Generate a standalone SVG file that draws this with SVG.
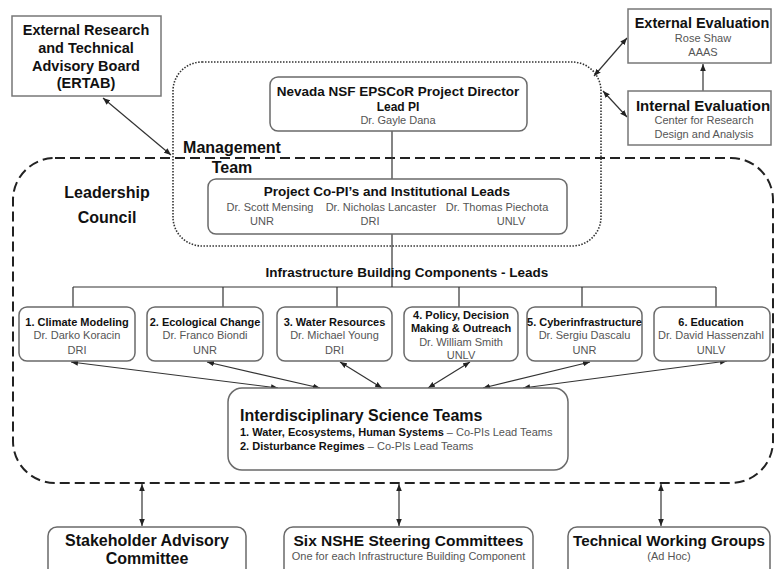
<svg xmlns="http://www.w3.org/2000/svg" width="774" height="569" viewBox="0 0 774 569">
<defs>
<marker id="ah" viewBox="0 0 10 10" refX="10" refY="5" markerWidth="7" markerHeight="7" markerUnits="userSpaceOnUse" orient="auto-start-reverse"><path d="M0,1 L10,5 L0,9 z" fill="#222"/></marker>
<style>
text{font-family:"Liberation Sans",Arial,sans-serif;text-anchor:middle}
.b{font-weight:bold;fill:#111}
.r{fill:#555;font-size:11px}
.box{fill:#fff;stroke:#6a6a6a;stroke-width:1.5}
.sq{fill:#fff;stroke:#777;stroke-width:1.5}
.ln{stroke:#333;stroke-width:1.2;fill:none}
.ar{stroke:#333;stroke-width:1.2;fill:none;marker-start:url(#ah);marker-end:url(#ah)}
.lbl{font-weight:bold;font-size:16px;fill:#111}
</style>
</defs>
<rect width="774" height="569" fill="#fff"/>

<g id="boundaries">
<rect x="13" y="158" width="760" height="325" rx="42" ry="42" fill="none" stroke="#222" stroke-width="2" stroke-dasharray="10 5"/>
<rect x="173" y="62" width="428" height="184" rx="29" ry="29" fill="none" stroke="#333" stroke-width="1.6" stroke-dasharray="1.5 1.5"/>
</g>

<g id="connectors">
<line class="ln" x1="392" y1="131" x2="392" y2="179"/>
<line class="ln" x1="392" y1="234" x2="392" y2="287"/>
<line class="ln" x1="73" y1="287" x2="716" y2="287"/>
<line class="ln" x1="73" y1="287" x2="73" y2="307"/>
<line class="ln" x1="223" y1="287" x2="223" y2="307"/>
<line class="ln" x1="337" y1="287" x2="337" y2="307"/>
<line class="ln" x1="459" y1="287" x2="459" y2="307"/>
<line class="ln" x1="582" y1="287" x2="582" y2="307"/>
<line class="ln" x1="716" y1="287" x2="716" y2="307"/>
<line class="ar" x1="103" y1="98" x2="171" y2="155"/>
<line class="ar" x1="594" y1="76" x2="627" y2="38"/>
<line class="ar" x1="603" y1="91" x2="627" y2="117"/>
<line class="ln" x1="703" y1="91" x2="703" y2="64" marker-end="url(#ah)"/>
<line class="ar" x1="71" y1="362" x2="278" y2="388"/>
<line class="ar" x1="207" y1="362" x2="320" y2="388"/>
<line class="ar" x1="340" y1="362" x2="382" y2="388"/>
<line class="ar" x1="470" y1="362" x2="428" y2="388"/>
<line class="ar" x1="590" y1="362" x2="483" y2="388"/>
<line class="ar" x1="727" y1="361" x2="523" y2="388"/>
<line class="ar" x1="142" y1="484" x2="142" y2="526"/>
<line class="ar" x1="399" y1="484" x2="399" y2="526"/>
<line class="ar" x1="661" y1="484" x2="661" y2="526"/>
</g>

<g id="labels">
<text class="lbl" x="232" y="153">Management</text>
<text class="lbl" x="232" y="173">Team</text>
<text class="lbl" x="107" y="198">Leadership</text>
<text class="lbl" x="107" y="223">Council</text>
<text class="b" x="407" y="277" font-size="13.5">Infrastructure Building Components - Leads</text>
</g>

<g id="ertab">
<rect class="sq" x="12" y="16" width="149" height="80"/>
<text class="b" x="86" y="35" font-size="14.5">External Research</text>
<text class="b" x="86" y="53" font-size="14.5">and Technical</text>
<text class="b" x="86" y="71" font-size="14.5">Advisory Board</text>
<text class="b" x="86" y="88" font-size="14.5">(ERTAB)</text>
</g>

<g id="external-evaluation">
<rect class="sq" x="628" y="9" width="143" height="54"/>
<text class="b" x="702" y="28" font-size="14.5">External Evaluation</text>
<text class="r" x="703" y="42">Rose Shaw</text>
<text class="r" x="703" y="56">AAAS</text>
</g>

<g id="internal-evaluation">
<rect class="sq" x="628" y="91" width="143" height="54"/>
<text class="b" x="703" y="111" font-size="15">Internal Evaluation</text>
<text class="r" x="704" y="124">Center for Research</text>
<text class="r" x="704" y="138">Design and Analysis</text>
</g>

<g id="director">
<rect class="box" x="270" y="77" width="257" height="54" rx="8"/>
<text class="b" x="398" y="96" font-size="13.5">Nevada NSF EPSCoR Project Director</text>
<text class="b" x="398" y="111" font-size="12">Lead PI</text>
<text class="r" x="398" y="124">Dr. Gayle Dana</text>
</g>

<g id="co-pis">
<rect class="box" x="208" y="179" width="359" height="55" rx="8"/>
<text class="b" x="387" y="196" font-size="13.5">Project Co-PI’s and Institutional Leads</text>
<text class="r" x="270" y="211">Dr. Scott Mensing</text>
<text class="r" x="381" y="211">Dr. Nicholas Lancaster</text>
<text class="r" x="497" y="211">Dr. Thomas Piechota</text>
<text class="r" x="262" y="225">UNR</text>
<text class="r" x="370" y="225">DRI</text>
<text class="r" x="511" y="225">UNLV</text>
</g>

<g id="comp1">
<rect class="box" x="19" y="307" width="116" height="54" rx="8"/>
<text class="b" x="77" y="326" font-size="11">1. Climate Modeling</text>
<text class="r" x="77" y="339">Dr. Darko Koracin</text>
<text class="r" x="77" y="354">DRI</text>
</g>
<g id="comp2">
<rect class="box" x="147" y="307" width="116" height="54" rx="8"/>
<text class="b" x="205" y="326" font-size="11">2. Ecological Change</text>
<text class="r" x="205" y="339">Dr. Franco Biondi</text>
<text class="r" x="205" y="354">UNR</text>
</g>
<g id="comp3">
<rect class="box" x="277" y="307" width="115" height="54" rx="8"/>
<text class="b" x="334.5" y="326" font-size="11">3. Water Resources</text>
<text class="r" x="334.5" y="339">Dr. Michael Young</text>
<text class="r" x="334.5" y="354">DRI</text>
</g>
<g id="comp4">
<rect class="box" x="404" y="307" width="114" height="54" rx="8"/>
<text class="b" x="461" y="319" font-size="11">4. Policy, Decision</text>
<text class="b" x="461" y="332" font-size="11">Making &amp; Outreach</text>
<text class="r" x="461" y="346">Dr. William Smith</text>
<text class="r" x="461" y="359">UNLV</text>
</g>
<g id="comp5">
<rect class="box" x="527" y="307" width="115" height="54" rx="8"/>
<text class="b" x="584.5" y="326" font-size="11">5. Cyberinfrastructure</text>
<text class="r" x="584.5" y="339">Dr. Sergiu Dascalu</text>
<text class="r" x="584.5" y="354">UNR</text>
</g>
<g id="comp6">
<rect class="box" x="654" y="307" width="116" height="54" rx="8"/>
<text class="b" x="711" y="326" font-size="11">6. Education</text>
<text class="r" x="711" y="339">Dr. David Hassenzahl</text>
<text class="r" x="711" y="354">UNLV</text>
</g>

<g id="science-teams">
<rect class="box" x="228" y="388" width="340" height="82" rx="14"/>
<text class="b" x="240" y="421" font-size="16" style="text-anchor:start">Interdisciplinary Science Teams</text>
<text x="240" y="436" font-size="11" style="text-anchor:start"><tspan class="b">1. Water, Ecosystems, Human Systems</tspan><tspan fill="#555"> – Co-PIs Lead Teams</tspan></text>
<text x="240" y="450" font-size="11" style="text-anchor:start"><tspan class="b">2. Disturbance Regimes</tspan><tspan fill="#555"> – Co-PIs Lead Teams</tspan></text>
</g>

<g id="stakeholder">
<rect class="box" x="48" y="527" width="198" height="60" rx="9"/>
<text class="b" x="147" y="546" font-size="16">Stakeholder Advisory</text>
<text class="b" x="147" y="564" font-size="16">Committee</text>
</g>
<g id="steering">
<rect class="box" x="284" y="527" width="249" height="60" rx="9"/>
<text class="b" x="408.5" y="546" font-size="15.5">Six NSHE Steering Committees</text>
<text class="r" x="408.5" y="560" font-size="10.5">One for each Infrastructure Building Component</text>
</g>
<g id="working-groups">
<rect class="box" x="568" y="527" width="202" height="60" rx="9"/>
<text class="b" x="669" y="546" font-size="15.2">Technical Working Groups</text>
<text class="r" x="669" y="560" font-size="10.5">(Ad Hoc)</text>
</g>
</svg>
